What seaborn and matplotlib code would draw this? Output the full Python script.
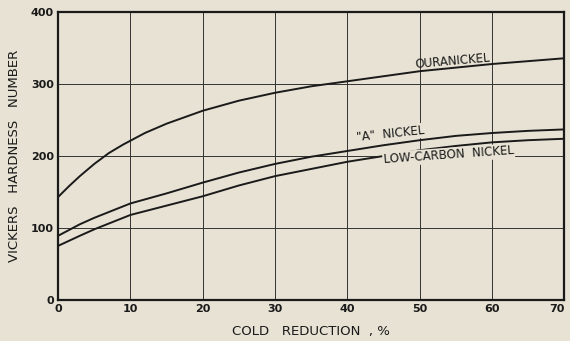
import numpy as np
import pandas as pd
import matplotlib
matplotlib.use("Agg")
import matplotlib.pyplot as plt
import seaborn as sns

oura_x = [0, 1.5, 3, 5, 7, 9, 12, 15, 20, 25, 30, 35, 40, 45, 50, 55, 60, 65, 70]
oura_nickel = [143, 158, 172, 189, 204, 216, 232, 245, 263, 277, 288, 297, 304, 311, 318, 323, 328, 332, 336]
ab_x = [0, 3, 5, 10, 15, 20, 25, 30, 35, 40, 45, 50, 55, 60, 65, 70]
a_nickel = [89, 105, 114, 134, 148, 163, 177, 189, 199, 207, 215, 222, 228, 232, 235, 237]
low_carbon_nickel = [75, 89, 98, 118, 131, 144, 159, 172, 182, 192, 200, 208, 214, 219, 222, 224]
series_names = ["OURANICKEL", '"A"  NICKEL', "LOW-CARBON  NICKEL"]

x_ticks = [0, 10, 20, 30, 40, 50, 60, 70]
x_ticklabels = ["0", "10", "20", "30", "40", "50", "60", "70"]
y_ticks = [0, 100, 200, 300, 400]

df = pd.concat([
    pd.DataFrame({"x": xs, "y": vals, "s": name})
    for name, xs, vals in zip(series_names, [oura_x, ab_x, ab_x],
                              [oura_nickel, a_nickel, low_carbon_nickel])
])

bg = "#e7e2d4"
ink = "#1a1a1a"
sns.set_theme(style="white")
plt.rcParams["font.family"] = ["DejaVu Sans"]

fig = plt.figure(figsize=(5.7, 3.41), dpi=100, facecolor=bg)
ax = fig.add_axes([0.102, 0.121, 0.888, 0.843])
ax.set_facecolor(bg)

for xv in x_ticks[1:-1]:
    ax.axvline(xv, color="#333333", lw=0.7, zorder=1)
for yv in y_ticks[1:-1]:
    ax.axhline(yv, color="#333333", lw=0.7, zorder=1)

sns.lineplot(data=df, x="x", y="y", hue="s", palette=[ink, ink, ink],
             legend=False, lw=1.4, ax=ax, zorder=3)

ax.set_xlim(0, 70)
ax.set_ylim(0, 400)
ax.set_xticks(x_ticks)
ax.set_xticklabels(x_ticklabels)
ax.set_yticks(y_ticks)
ax.tick_params(axis="both", length=0, labelsize=8, colors=ink, pad=3)
for lab in ax.get_xticklabels() + ax.get_yticklabels():
    lab.set_fontweight("bold")
xl = ax.get_xticklabels()
xl[-1].set_horizontalalignment("right")
xl[-1].set_x(70)
for sp in ax.spines.values():
    sp.set_visible(True)
    sp.set_color(ink)
    sp.set_linewidth(1.6)

ax.set_xlabel("COLD   REDUCTION  , %", fontsize=9.5, color=ink, labelpad=8)
ax.set_ylabel("VICKERS   HARDNESS   NUMBER", fontsize=9.5, color=ink, labelpad=7)

tb = dict(facecolor=bg, edgecolor="none", pad=0.8)
ax.text(54.5, 332, series_names[0], fontsize=8.5, rotation=5, ha="center", va="center",
        color=ink, zorder=4)
ax.text(46, 231, series_names[1], fontsize=8.5, rotation=6, ha="center", va="center",
        color=ink, bbox=tb, zorder=4)
ax.text(54, 201, series_names[2], fontsize=8.5, rotation=4, ha="center", va="center",
        color=ink, bbox=tb, zorder=4)

fig.savefig("out.png", dpi=100, facecolor=bg)
